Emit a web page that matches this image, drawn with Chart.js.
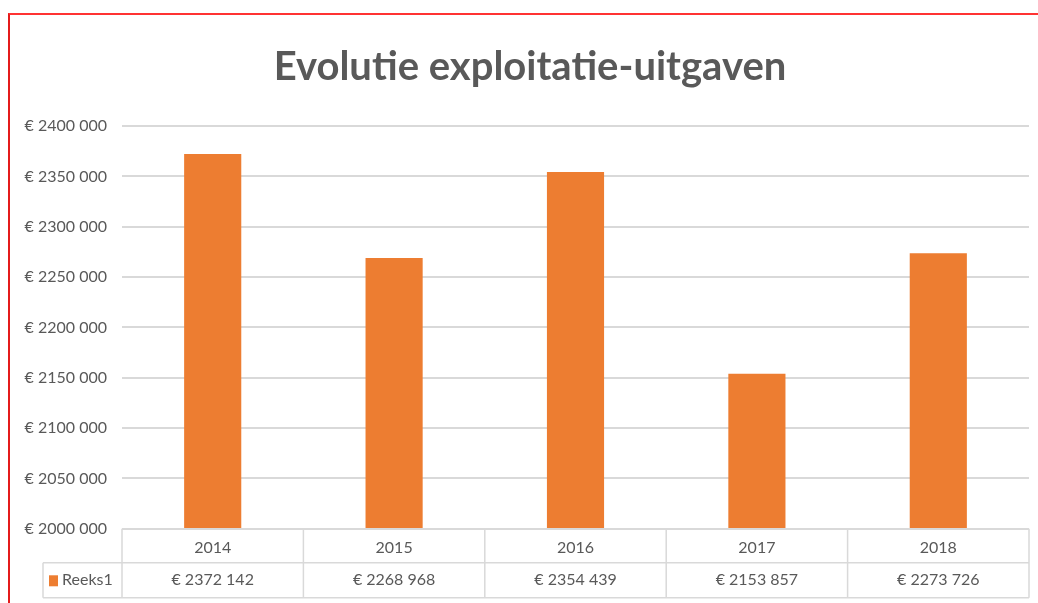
<!DOCTYPE html>
<html>
<head>
<meta charset="utf-8">
<script src="https://cdn.jsdelivr.net/npm/chart.js@4.4.0/dist/chart.umd.min.js"></script>
<style>
  html, body { margin: 0; padding: 0; background: #fff; }
  #frame {
    position: absolute; left: 0; top: 0; width: 1038px; height: 603px;
  }
  #border {
    position: absolute; left: 8px; top: 13px; width: 1040px; height: 600px;
    border-top: 2px solid #ff3333; border-left: 2px solid #e41b1b;
    pointer-events: none;
  }
</style>
</head>
<body>
<div id="frame">
  <canvas id="myChart" width="1038" height="603"></canvas>
  <div id="border"></div>
</div>
<script>
const years = ['2014', '2015', '2016', '2017', '2018'];
const reeks1 = [2372142, 2268968, 2354439, 2153857, 2273726];
const seriesName = 'Reeks1';
const yMin = 2000000;
const yMax = 2400000;
const yStep = 50000;

function euro(v) {
    const k = Math.floor(v / 1000);
    const rest = String(v % 1000).padStart(3, '0');
    return '€ ' + k + ' ' + rest;
}

const grey = '#595959';
const lineGrey = '#d9d9d9';
const orange = '#ed7d31';
const fontFamily = 'Lato, "Open Sans", sans-serif';

// title sits a bit right of the canvas centre in the original
const titleShift = {
    id: 'titleShift',
    afterLayout(chart) {
        if (chart.titleBlock) chart.titleBlock.left += 31;
    }
};

// draws the data table under the plot (Excel style)
const dataTable = {
    id: 'dataTable',
    afterDraw(chart) {
        const ctx = chart.ctx;
        const area = chart.chartArea;
        const x = chart.scales.x;
        const catW = (area.right - area.left) / years.length;
        const top = area.bottom;
        const y1 = top + 34;
        const y2 = top + 69;
        const leftCol = 43;

        ctx.save();
        ctx.strokeStyle = lineGrey;
        ctx.lineWidth = 1.5;
        ctx.beginPath();
        ctx.moveTo(area.left, top); ctx.lineTo(area.right, top);
        ctx.moveTo(leftCol, y1); ctx.lineTo(area.right, y1);
        ctx.moveTo(leftCol, y2); ctx.lineTo(area.right, y2);
        ctx.moveTo(leftCol, y1); ctx.lineTo(leftCol, y2);
        for (let i = 0; i <= years.length; i++) {
            const bx = area.left + i * catW;
            ctx.moveTo(bx, top); ctx.lineTo(bx, y2);
        }
        ctx.stroke();

        ctx.fillStyle = grey;
        ctx.font = '16px ' + fontFamily;
        ctx.textAlign = 'center';
        ctx.textBaseline = 'middle';
        const midY = (y1 + y2) / 2;
        reeks1.forEach((v, i) => {
            ctx.fillText(euro(v), x.getPixelForValue(i), midY);
        });

        // legend key
        ctx.fillStyle = orange;
        ctx.fillRect(leftCol + 6, midY - 5, 9, 11);
        ctx.fillStyle = grey;
        ctx.textAlign = 'left';
        ctx.fillText(seriesName, leftCol + 19, midY);
        ctx.restore();
    }
};

const ctx = document.getElementById('myChart');
const chart = new Chart(ctx, {
    type: 'bar',
    data: {
        labels: years,
        datasets: [{
            label: seriesName,
            data: reeks1,
            backgroundColor: orange,
            barPercentage: 0.63,
            categoryPercentage: 0.5
        }]
    },
    options: {
        responsive: false,
        animation: false,
        layout: {
            padding: { left: 0, right: 9, top: 0, bottom: 37 }
        },
        scales: {
            x: {
                grid: { display: false, drawTicks: false },
                border: { display: false },
                ticks: {
                    color: grey,
                    font: { family: fontFamily, size: 16 },
                    padding: 9
                }
            },
            y: {
                min: yMin,
                max: yMax,
                afterFit(scale) { scale.width = 122; },
                grid: { color: lineGrey, lineWidth: 2, drawTicks: false },
                border: { display: false },
                ticks: {
                    stepSize: yStep,
                    color: grey,
                    padding: 15,
                    font: { family: fontFamily, size: 16 },
                    callback: (v) => euro(v)
                }
            }
        },
        plugins: {
            legend: { display: false },
            tooltip: { enabled: false },
            title: {
                display: true,
                text: 'Evolutie exploitatie-uitgaven',
                color: grey,
                font: { family: fontFamily, size: 40, weight: 'bold' },
                padding: { top: 43, bottom: 35 }
            }
        }
    },
    plugins: [titleShift, dataTable]
});
</script>
</body>
</html>
